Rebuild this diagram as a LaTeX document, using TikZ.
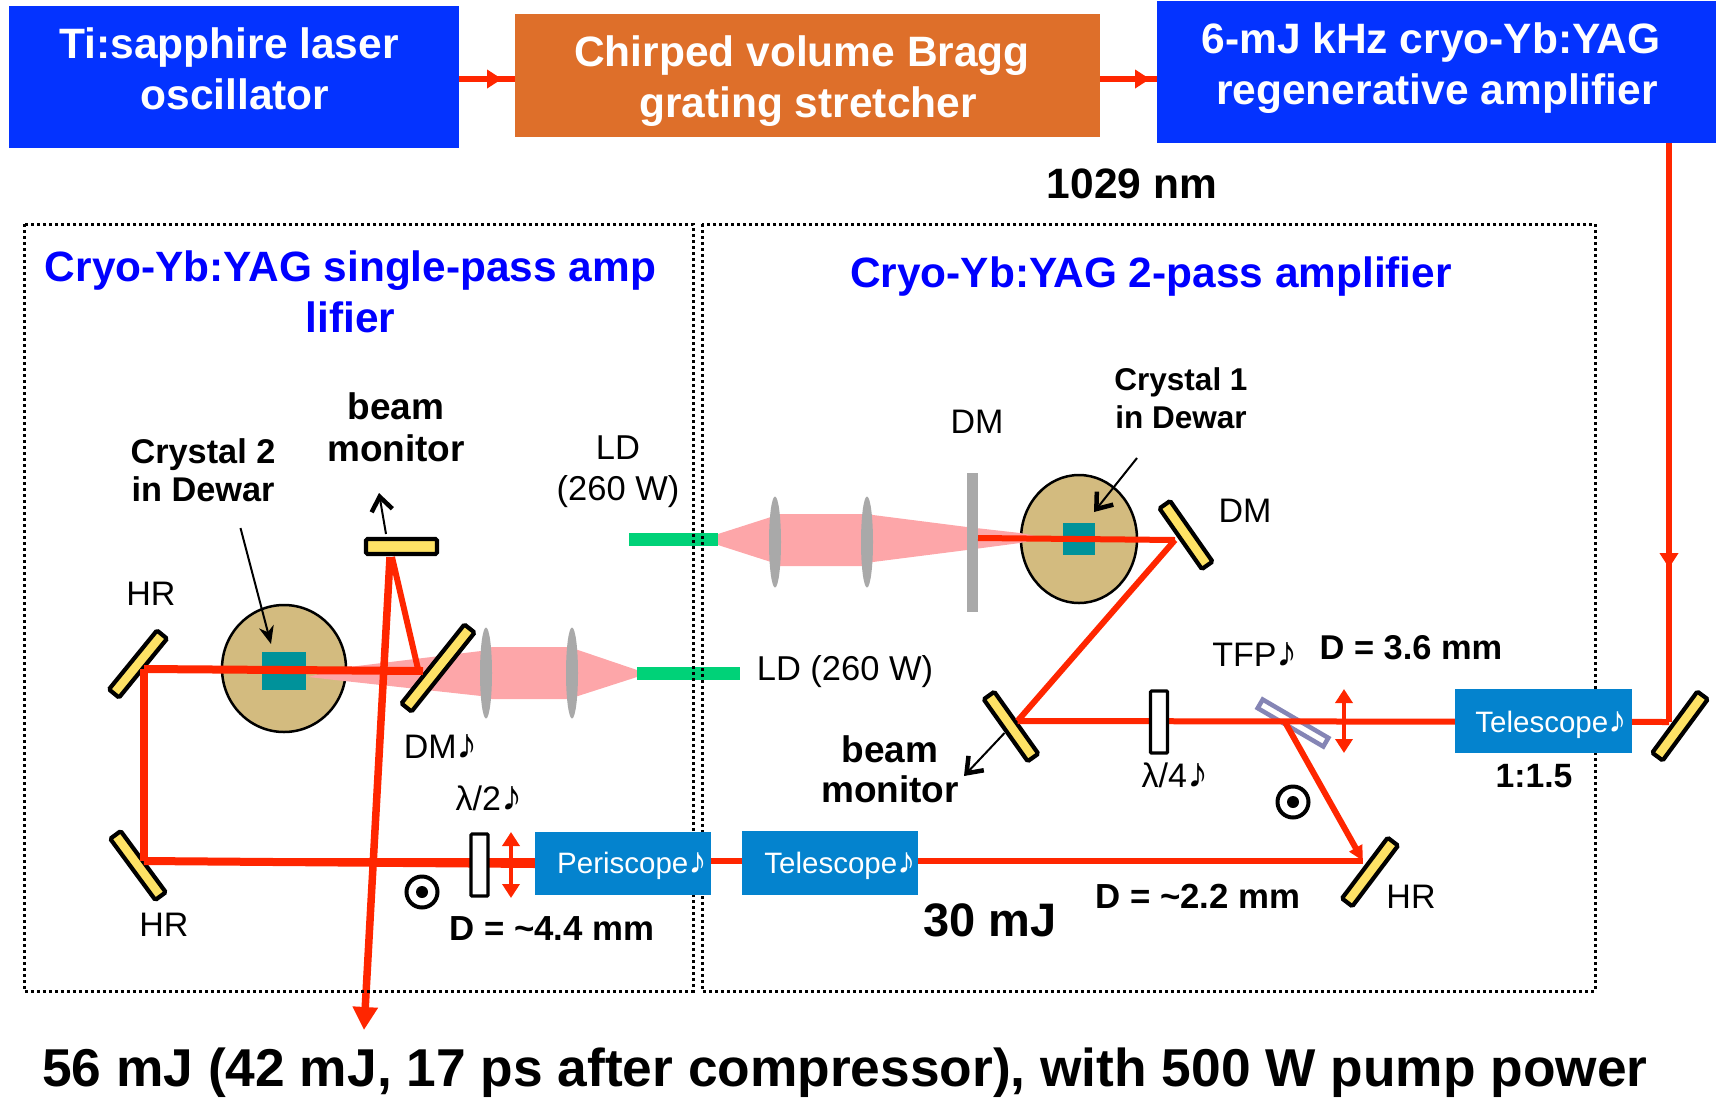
\documentclass[tikz,border=0pt]{standalone}
\usepackage{fontspec}
\setmainfont{Liberation Sans}
\usetikzlibrary{arrows.meta,shapes.geometric,decorations.markings}
\definecolor{boxblue}{HTML}{0433FF}
\definecolor{boxorange}{HTML}{DE6F2A}
\definecolor{beamred}{HTML}{FF2600}
\definecolor{optblue}{HTML}{0483CE}
\definecolor{ldgreen}{HTML}{00D278}
\definecolor{pumppink}{HTML}{FDA6A9}
\definecolor{lensgray}{HTML}{A9A9A9}
\definecolor{mirroryellow}{HTML}{FEE265}
\definecolor{dewartan}{HTML}{D3BB7F}
\definecolor{crystalteal}{HTML}{00929A}
\definecolor{tfpblue}{HTML}{8585B5}
\newcommand{\fsl}[2]{\fontsize{#1}{#2}\selectfont}
\newcommand{\nt}{\scalebox{1.25}{♪}}
\newcommand{\trail}{\rule{12pt}{0pt}}
\tikzset{
  x=1pt,y=-1pt,
  topbox/.style={rectangle,draw=none,fill=boxblue,inner sep=0pt},
  optbox/.style={rectangle,draw=none,fill=optblue,inner sep=0pt},
  optlbl/.style={text=white,font=\fsl{29.5}{34},inner sep=0pt},
  toptext/.style={align=center,text=white,font=\fsl{42.5}{51}\bfseries,inner sep=0pt},
  titletext/.style={align=center,text=blue,font=\fsl{42.4}{51}\bfseries,inner sep=0pt},
  lbl/.style={align=center,text=black,font=\fsl{34}{41},inner sep=0pt},
  blbl/.style 2 args={align=center,text=black,font=\fsl{#1}{#2}\bfseries,inner sep=0pt},
  mirrorbox/.style={rectangle,draw=black,fill=mirroryellow,line width=4.2pt,rounded corners=1.5pt,
     inner sep=0pt,minimum height=13pt},
  waveplate/.style={rectangle,draw=black,fill=white,line width=3.2pt,rounded corners=1pt,inner sep=0pt,
     minimum width=17pt,minimum height=62pt},
  lensshape/.style={ellipse,fill=lensgray,draw=none,inner sep=0pt,minimum width=12pt,minimum height=91pt},
  dewar/.style={ellipse,fill=dewartan,draw=black,line width=2.5pt,inner sep=0pt},
  crystal/.style={rectangle,fill=crystalteal,draw=none,inner sep=0pt},
  ldbar/.style={rectangle,fill=ldgreen,draw=none,inner sep=0pt},
  frame/.style={draw=black,line width=3pt,dash pattern=on 2.8pt off 3.2pt},
  beam/.style={draw=beamred,line width=6pt},
  beamthick/.style={draw=beamred,line width=8pt},
  pump/.style={fill=pumppink,draw=none},
  pol/.style={circle,draw=black,line width=4pt,fill=white,inner sep=0pt,minimum size=31pt},
  poldot/.style={circle,fill=black,draw=none,inner sep=0pt,minimum size=12pt},
  thinptr/.style={draw=black,line width=2pt},
  barbtip/.style={-{Straight Barb[length=14pt,width=21pt,line width=4.5pt]}},
  midarrow/.style={postaction={decorate},decoration={markings,
     mark=at position #1 with {\arrow[beamred]{Triangle[length=15pt,width=18pt]}}}},
  dbl/.style={draw=beamred,line width=4.5pt,{Triangle[length=14pt,width=17pt]}-{Triangle[length=14pt,width=17pt]}},
}
\begin{document}
\begin{tikzpicture}
\useasboundingbox (0,0) rectangle (1719,1098);

% pump cones
\path[pump] (718,534)--(771,517)--(779,514)--(871,514)--(873,515)--(967,527)--(967,550)--(873,562)--(861,566)--(779,566)--(771,562)--(718,545)--cycle;
\node[dewar,minimum width=116pt,minimum height=128pt] (dewarA) at (1079,539) {};
\node[dewar,minimum width=124pt,minimum height=127pt] (dewarB) at (284,668.5) {};
\path[pump] (1020,533)--(1046,538)--(1020,543)--(967,550)--(967,527)--cycle;
\path[pump] (637,670)--(578,650)--(566.5,647)--(492,647)--(481,651)--(349,667)--(308,677)--(481,696)
   --(492,699)--(566.5,699)--(578,696)--(637,677)--cycle;
\node[crystal,minimum width=32pt,minimum height=32pt] (crystalA) at (1079,539) {};
\node[crystal,minimum width=44pt,minimum height=38pt] (crystalB) at (284,671) {};

% laser diodes, lenses, plate
\node[ldbar,minimum width=89pt,minimum height=13pt] (ldA) at (673.5,539.5) {};
\node[ldbar,minimum width=103pt,minimum height=13pt] (ldB) at (688.5,673.5) {};
\node[lensshape] (lensA) at (775,542) {};
\node[lensshape] (lensB) at (867,542) {};
\node[lensshape] (lensC) at (486,673) {};
\node[lensshape] (lensD) at (572,673) {};
\node[rectangle,fill=lensgray,inner sep=0pt,minimum width=11pt,minimum height=139pt] (dmplate) at (972.5,542.5) {};

% beam hit points
\coordinate (ya) at (0,79);
\coordinate (hIn) at (1669,722);
\coordinate (hFold) at (1017.5,721);
\coordinate (hDMr) at (1175,540);
\coordinate (hDMs) at (978,538);
\coordinate (hTFP) at (1285.5,723);
\coordinate (hHRr) at (1363,861);
\coordinate (hHRb) at (144,861);
\coordinate (hHRt) at (144,669);
\coordinate (hDMl) at (423,671);
\coordinate (hBMa) at (392,557);
\coordinate (hBMb) at (390,557);
\coordinate (hOut) at (364,1030);
\coordinate (hPer) at (535,864);
\coordinate (hDMla) at (418,669);

% mirrors
\node[mirrorbox,minimum width=76pt,rotate=53.6] (mIn) at (1680,726) {};
\node[mirrorbox,minimum width=76pt,rotate=-54.6] (mFold) at (1011,726.5) {};
\node[mirrorbox,minimum width=76pt,rotate=53] (mHRr) at (1370,872) {};
\node[mirrorbox,minimum width=76pt,rotate=-53.6] (mHRb) at (138,865.5) {};
\node[mirrorbox,minimum width=76pt,rotate=50.8] (mHRt) at (138,664) {};
\node[mirrorbox,minimum width=101pt,rotate=51.4] (mDMl) at (438,668) {};
\node[mirrorbox,minimum width=71pt,minimum height=15pt] (mBMl) at (401.5,546.5) {};
\node[mirrorbox,minimum width=74pt,rotate=-55] (mDMr) at (1186,535) {};
\node[rectangle,draw=tfpblue,fill=white,line width=4.5pt,inner sep=0pt,minimum width=76pt,minimum height=10pt,rotate=-30.3] (tfp) at (1293,723) {};

% boxes of the optical line (nodes first, so beams can name them)
\node[topbox,minimum width=450pt,minimum height=142pt] (ti) at (234,77) {};
\node[topbox,fill=boxorange,minimum width=585pt,minimum height=123pt] (cvbg) at (807.5,75.5) {};
\node[topbox,minimum width=559pt,minimum height=142pt] (regen) at (1436.5,72) {};

% beams
\draw[beam,midarrow=.77] (ti.east |- ya) -- (cvbg.west |- ya);
\draw[beam,midarrow=.88] (cvbg.east |- ya) -- (regen.west |- ya);
\draw[beam,midarrow=.734] (regen.south -| hIn) -- (hIn);
\draw[beam] (hIn) -- (hFold);
\draw[beam] (hFold) -- (hDMr);
\draw[beam] (hDMr) -- (hDMs);
\draw[beam,-{Triangle[length=15pt,width=14pt]}] (hTFP) -- (hHRr);
\draw[beam] (hHRr) -- (hHRb);
\draw[beamthick] (hHRb) -- (hPer);
\draw[beamthick] (hHRb) -- (hHRt);
\draw[beamthick] (hHRt) -- (hDMl);
\draw[draw=beamred,line width=6pt] (hDMla) -- (hBMa);
\draw[draw=beamred,line width=7.5pt,-{Triangle[length=23pt,width=24pt]}] (hBMb) -- (hOut);

% dotted frames
\draw[frame] (24,224) rectangle (693,991);
\draw[frame] (702,224) rectangle (1595,991);

% boxes over the frames
\node[optbox,minimum width=177pt,minimum height=64pt] (teleR) at (1543.5,721) {};
\node[optbox,minimum width=176pt,minimum height=63pt] (peri) at (623,863.5) {};
\node[optbox,minimum width=176pt,minimum height=64pt] (teleL) at (830,863) {};
\node[waveplate] (wpA) at (479.5,865) {};
\node[waveplate] (wpB) at (1159,722) {};
\coordinate (dA1) at (511,832); \coordinate (dA2) at (511,898);
\coordinate (dB1) at (1344,689); \coordinate (dB2) at (1344,753);
\draw[dbl] (dA1) -- (dA2);
\draw[dbl] (dB1) -- (dB2);
\node[pol] (polA) at (422,892) {};
\node[poldot] (polAd) at (422,892) {};
\node[pol] (polB) at (1293,802) {};
\node[poldot] (polBd) at (1293,802) {};

% pointers
\coordinate (pA1) at (1137,458); \coordinate (pA2) at (1094,512);
\coordinate (pB1) at (240.5,528); \coordinate (pB2) at (271,644);
\coordinate (pC1) at (386,534); \coordinate (pC2) at (379,493);
\coordinate (pD1) at (1004.5,733); \coordinate (pD2) at (964,776);
\draw[thinptr,barbtip] (pA1) -- (pA2);
\draw[thinptr,-{Stealth[length=18pt,width=15pt]}] (pB1) -- (pB2);
\draw[thinptr,barbtip] (pC1) -- (pC2);
\draw[thinptr,barbtip] (pD1) -- (pD2);

% text
\node[toptext] (tiT) at (235,69) {Ti:sapphire laser\trail\\oscillator};
\node[toptext] (cvbgT) at (808,81.5) {Chirped volume Bragg\trail\\grating stretcher};
\node[toptext] (regenT) at (1437,68) {6-mJ kHz cryo-Yb:YAG\trail\\regenerative amplifier};
\node[blbl={42.5}{50}] (nm) at (1132,184) {1029 nm};
\node[titletext] (titleL) at (350.5,292) {Cryo-Yb:YAG single-pass amp\\lifier};
\node[titletext] (titleR) at (1151,277) {Cryo-Yb:YAG 2-pass amplifier};
\node[blbl={37}{42}] (bmL) at (396,427) {beam\\monitor};
\node[blbl={34.3}{38}] (cB) at (203,470) {Crystal 2\\in Dewar};
\node[blbl={31.5}{37.5}] (cA) at (1181,398) {Crystal 1\\in Dewar};
\node[lbl] (hr1) at (151,594) {HR};
\node[lbl] (hr2) at (164,925) {HR};
\node[lbl] (hr3) at (1411,897) {HR};
\node[lbl] (dm1) at (441,747) {DM\nt};
\node[lbl] (dm2) at (977,422) {DM};
\node[lbl] (dm3) at (1245,511) {DM};
\node[lbl,font=\fsl{34.5}{41}] (ld1) at (618,472) {LD\\(260 W)};
\node[lbl,font=\fsl{34.5}{41}] (ld2) at (845,672) {LD (260 W)};
\node[blbl={37}{40}] (bmR) at (890,769) {beam\\monitor};
\node[lbl] (tfpT) at (1255,655) {TFP\nt};
\node[lbl] (l4) at (1175,775) {λ/4\nt};
\node[lbl] (l2) at (489,798) {λ/2\nt};
\node[blbl={34.4}{40}] (d36) at (1411,648) {D = 3.6 mm};
\node[blbl={33.7}{40}] (r15) at (1534,776) {1:1.5};
\node[blbl={34.8}{40}] (d44) at (552,929) {D = \textasciitilde4.4 mm};
\node[blbl={34.8}{40}] (d22) at (1198,896) {D = \textasciitilde2.2 mm};
\node[blbl={47}{54}] (e30) at (990,920) {30 mJ};
\node[blbl={53.3}{60}] (e56) at (845,1073) {56 mJ (42 mJ, 17 ps after compressor), with 500 W pump power};
\node[optlbl] (periT) at (632,866) {Periscope\nt};
\node[optlbl] (teleLT) at (840,866) {Telescope\nt};
\node[optlbl] (teleRT) at (1551,725) {Telescope\nt};
\end{tikzpicture}
\end{document}
